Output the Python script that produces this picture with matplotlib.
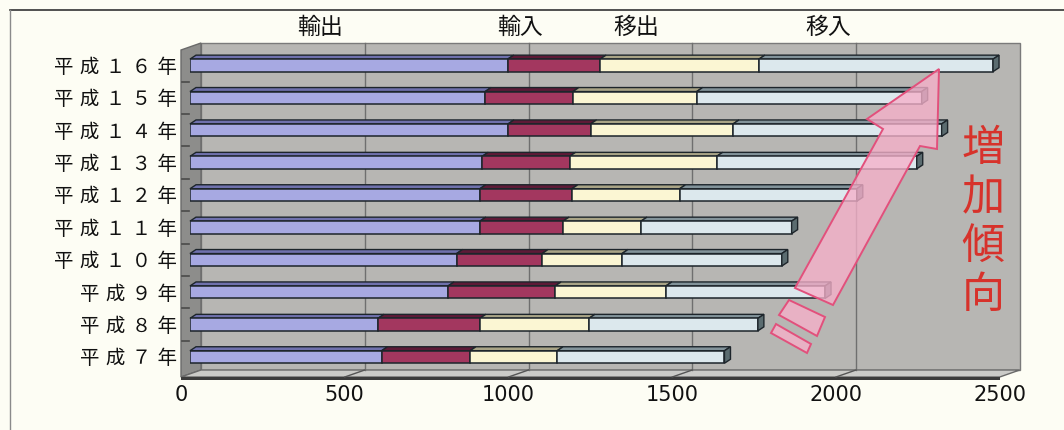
import numpy as np
import matplotlib.pyplot as plt
from matplotlib.patches import Polygon
from matplotlib.transforms import offset_copy

plt.rcParams['font.family'] = ['Noto Sans CJK JP', 'DejaVu Sans']

#------ data ------
years = ['平成７年', '平成８年', '平成９年', '平成１０年', '平成１１年',
         '平成１２年', '平成１３年', '平成１４年', '平成１５年', '平成１６年']
series = ['輸出', '輸入', '移出', '移入']
export_ = [585, 574, 788, 814, 885, 885, 892, 971, 901, 970]
import_ = [270, 311, 327, 261, 254, 281, 267, 252, 268, 282]
ship_out = [266, 333, 338, 244, 238, 329, 449, 435, 378, 485]
ship_in = [511, 516, 486, 488, 460, 541, 611, 637, 687, 715]
xticks = [0, 500, 1000, 1500, 2000, 2500]

colors = ['#a7a9e2', '#a3375f', '#fbf6d3', '#dce8ed']
tops = ['#6f71ad', '#5e1a37', '#a9a486', '#82939a']
edge = '#1d252b'

#------ figure / layout (pixels) ------
W, H = 1064, 431
fig = plt.figure(figsize=(W / 100, H / 100), dpi=100)
fig.patch.set_facecolor('#fdfdf4')

x0_px, px_per = 190, 0.3275     # bar plane: 0 at 190px
row0_px, pitch = 358, 32.4      # first row centre, row spacing
top_px, bot_px = 44, 380
BX, BY = 11, -7                 # shift to back wall
FX, FY = -9, 0                  # shift to front edge

def bx(v):
    return x0_px + v * px_per

bg = fig.add_axes([0, 0, 1, 1], zorder=0)
bg.set_xlim(0, W)
bg.set_ylim(H, 0)
bg.axis('off')

ax = fig.add_axes([x0_px / W, (H - bot_px) / H, 2500 * px_per / W,
                   (bot_px - top_px) / H], zorder=1)
ax.set_xlim(0, 2500)
ax.set_ylim(-(bot_px - row0_px) / pitch, (row0_px - top_px) / pitch)
ax.axis('off')

ov = fig.add_axes([0, 0, 1, 1], zorder=2)
ov.set_xlim(0, W)
ov.set_ylim(H, 0)
ov.axis('off')

# outer frame
bg.plot([10, W], [11, 11], color='#333333', lw=1.2)
bg.plot([10, 10], [11, H], color='#8a8a8a', lw=1)

#------ 3D walls ------
back_y = 371
front_y = 378
x_l, x_r = bx(0), bx(2500)
bg.add_patch(Polygon([(x_l + BX, top_px), (x_r + BX, top_px), (x_r + BX, back_y),
                      (x_l + BX, back_y)], closed=True, fc='#b7b6b3', ec='#7a7a7a', lw=1))
bg.add_patch(Polygon([(x_l + FX, top_px + 7), (x_l + BX, top_px), (x_l + BX, back_y),
                      (x_l + FX, front_y)], closed=True, fc='#8d8d8b', ec='#6a6a6a', lw=1))
bg.add_patch(Polygon([(x_l + FX, front_y), (x_l + BX, back_y), (x_r + BX, back_y),
                      (x_r + FX, front_y)], closed=True, fc='#cbcbc8', ec='#6a6a6a', lw=1))
bg.add_patch(Polygon([(x_l + FX, front_y), (x_r + FX, front_y), (x_r + FX, front_y + 2.5),
                      (x_l + FX, front_y + 2.5)], closed=True, fc='#3c3c3c', lw=0))
for v in xticks[1:-1]:
    bg.plot([bx(v) + BX] * 2, [top_px, back_y], color='#6f6f6f', lw=1)
    bg.plot([bx(v) + FX, bx(v) + BX], [front_y, back_y], color='#555555', lw=1)

#------ bars ------
ux = 1 / px_per
uy = 1 / pitch
dx, dy = 6, 4
bh = 12.5 / pitch
data = [export_, import_, ship_out, ship_in]
idx = np.arange(len(years))
left = np.zeros(len(years))
for vals, c, tc in zip(data, colors, tops):
    vals = np.array(vals, dtype=float)
    ax.barh(idx, vals, left=left, height=bh, color=c, edgecolor=edge, lw=1.1, zorder=3)
    for i in idx:
        l, r, t = left[i], left[i] + vals[i], i + bh / 2
        ax.add_patch(Polygon([(l, t), (r, t), (r + dx * ux, t + dy * uy), (l + dx * ux, t + dy * uy)],
                             closed=True, fc=tc, ec=edge, lw=1, zorder=2, clip_on=False))
    left += vals

for i in idx:
    r, b, t = left[i], i - bh / 2, i + bh / 2
    ax.add_patch(Polygon([(r, b), (r, t), (r + dx * ux, t + dy * uy), (r + dx * ux, b + dy * uy)],
                         closed=True, fc='#5b6c70', ec=edge, lw=1, zorder=4, clip_on=False))

# small marks on the left wall between rows
for i in idx[:-1]:
    ax.plot([-24, -2], [i + 0.5, i + 0.5], color='#4a4a4a', lw=1.2, clip_on=False, zorder=2)

#------ text ------
lab_tr = offset_copy(ax.transData, fig=fig, x=-13, y=-1, units='dots')
sp = '\u2004'
for i, name in enumerate(years):
    ax.text(0, i, sp.join(name), transform=lab_tr, ha='right', va='center',
            fontsize=14, color='#111111')

tick_tr = offset_copy(ax.get_xaxis_transform(), fig=fig, x=-9, y=-15, units='dots')
for v in xticks:
    ax.text(v, 0, str(v), transform=tick_tr, ha='center', va='center',
            fontsize=15, family='DejaVu Sans', color='#111111')

for name, xp in zip(series, [320, 520, 636, 828]):
    bg.text(xp, 27, name, ha='center', va='center', fontsize=16.5, color='#111111')

#------ pink arrow ------
arrow = [(939, 70), (937, 150), (920, 147), (833, 306), (795, 289), (883, 130), (867, 120)]
seg2 = [(789, 301), (825, 318), (817, 337), (779, 316)]
seg3 = [(776, 325), (811, 345), (807, 354), (771, 334)]
for pts in (arrow, seg2, seg3):
    ov.add_patch(Polygon(pts, closed=True, fc='#f6b0ca', ec='none', alpha=0.78))
    ov.add_patch(Polygon(pts, closed=True, fill=False, ec='#e2507c', lw=1.4))

for k, ch in enumerate('増加傾向'):
    ov.text(983, 149 + 49 * k, ch, ha='center', va='center', fontsize=31,
            color='#d7322b')

fig.savefig('out.png', dpi=100, facecolor=fig.get_facecolor())
